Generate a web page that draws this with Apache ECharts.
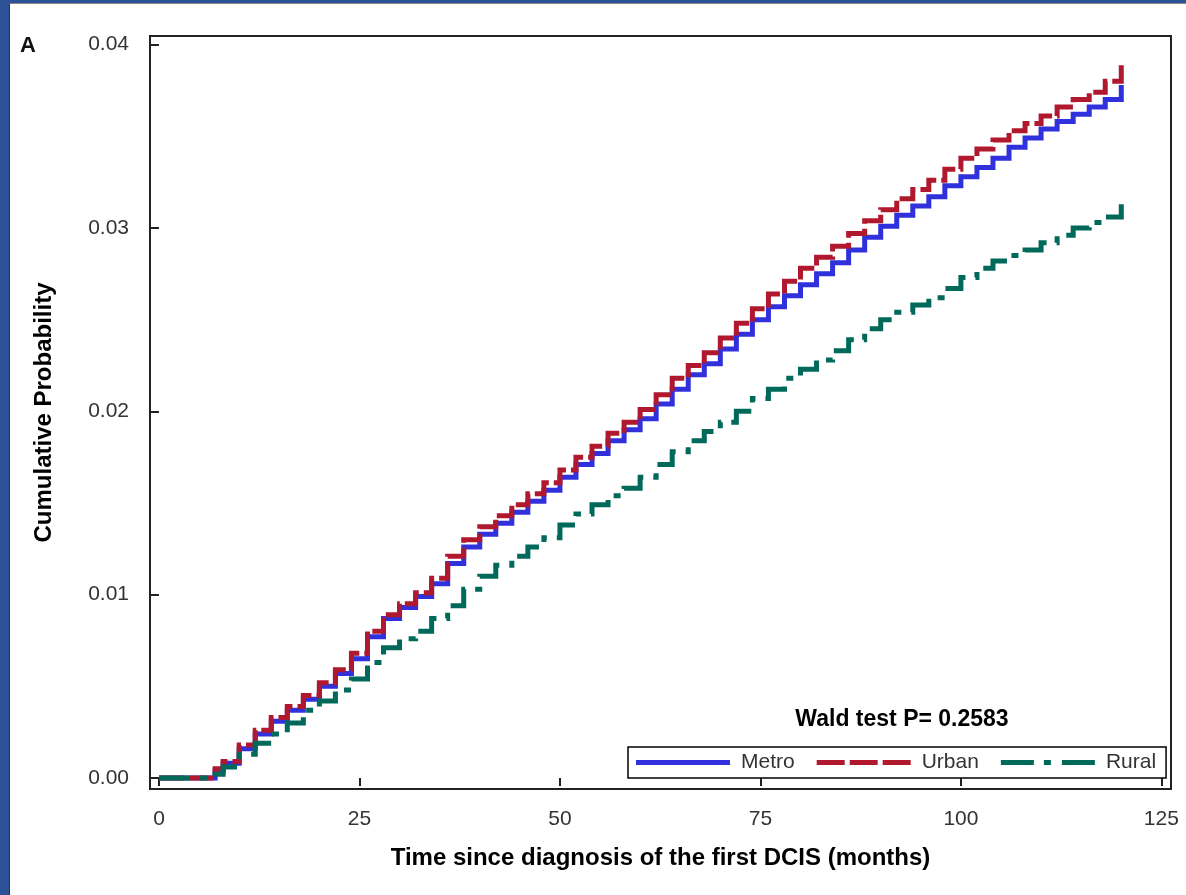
<!DOCTYPE html>
<html>
<head>
<meta charset="utf-8">
<script src="https://cdn.jsdelivr.net/npm/echarts@6/dist/echarts.min.js"></script>
<style>
  html, body { margin: 0; padding: 0; background: #fff; }
  #wrap { position: relative; width: 1186px; height: 895px; overflow: hidden; }
  #bandL { position: absolute; left: 0; top: 0; width: 9px; height: 895px; background: #2c5196; }
  #bandT { position: absolute; left: 0; top: 0; width: 1186px; height: 3px; background: #2c5196; }
  #edge { position: absolute; left: 9px; top: 3px; right: 0; bottom: 0; border-left: 1px solid #333; border-top: 1px solid #888; }
  #chart { position: absolute; left: 0; top: 0; width: 1186px; height: 895px; }
</style>
</head>
<body>
<div id="wrap">
  <div id="bandL"></div>
  <div id="bandT"></div>
  <div id="edge"></div>
  <div id="chart"></div>
</div>
<script>
// months since diagnosis
const months = [0, 2, 4, 6, 7, 8,
  10, 12, 14, 16, 18, 20, 22, 24, 26, 28,
  30, 32, 34, 36, 38, 40, 42, 44, 46, 48,
  50, 52, 54, 56, 58, 60, 62, 64, 66, 68,
  70, 72, 74, 76, 78, 80, 82, 84, 86, 88,
  90, 92, 94, 96, 98, 100, 102, 104, 106, 108,
  110, 112, 114, 116, 118, 120];

const metro = [0, 0, 0, 0, 0.0004, 0.0008,
  0.0016, 0.0024, 0.0031, 0.0037, 0.0043, 0.0050, 0.0057, 0.0065, 0.0077, 0.0087,
  0.0093, 0.0099, 0.0106, 0.0117, 0.0126, 0.0133, 0.0139, 0.0145, 0.0151, 0.0157,
  0.0164, 0.0171, 0.0177, 0.0184, 0.0190, 0.0196, 0.0204, 0.0212, 0.0220, 0.0226,
  0.0234, 0.0242, 0.0250, 0.0257, 0.0263, 0.0269, 0.0275, 0.0281, 0.0288, 0.0295,
  0.0301, 0.0307, 0.0312, 0.0317, 0.0323, 0.0328, 0.0333, 0.0338, 0.0344, 0.0349,
  0.0354, 0.0358, 0.0362, 0.0366, 0.0370, 0.0378];

const urban = [0, 0, 0, 0, 0.0005, 0.0009,
  0.0018, 0.0026, 0.0033, 0.0039, 0.0045, 0.0052, 0.0059, 0.0068, 0.0080, 0.0089,
  0.0095, 0.0101, 0.0109, 0.0121, 0.0130, 0.0137, 0.0143, 0.0149, 0.0155, 0.0161,
  0.0168, 0.0175, 0.0181, 0.0188, 0.0194, 0.0201, 0.0209, 0.0218, 0.0225, 0.0232,
  0.0240, 0.0248, 0.0256, 0.0264, 0.0271, 0.0278, 0.0284, 0.0290, 0.0297, 0.0304,
  0.0310, 0.0316, 0.0321, 0.0326, 0.0332, 0.0338, 0.0343, 0.0348, 0.0353, 0.0357,
  0.0361, 0.0366, 0.0370, 0.0374, 0.0380, 0.0389];

const rural = [0, 0, 0, 0, 0.0002, 0.0006,
  0.0013, 0.0019, 0.0024, 0.0030, 0.0037, 0.0042, 0.0048, 0.0054, 0.0063, 0.0071,
  0.0076, 0.0080, 0.0087, 0.0094, 0.0103, 0.0110, 0.0116, 0.0121, 0.0126, 0.0131,
  0.0138, 0.0144, 0.0149, 0.0154, 0.0158, 0.0164, 0.0171, 0.0178, 0.0184, 0.0189,
  0.0194, 0.0200, 0.0207, 0.0212, 0.0218, 0.0223, 0.0228, 0.0233, 0.0239, 0.0245,
  0.0250, 0.0254, 0.0258, 0.0262, 0.0267, 0.0273, 0.0278, 0.0282, 0.0285, 0.0288,
  0.0292, 0.0296, 0.0300, 0.0303, 0.0306, 0.0313];

const xTicks = [0, 25, 50, 75, 100, 125];
const yTicks = [0, 0.01, 0.02, 0.03, 0.04];

const FONT = '"Liberation Sans", Arial, sans-serif';
const INK = '#222';

// legend swatches drawn as 94x5 paths (solid / dashed / dash-dot)
const ICON_SOLID = 'path://M0,0H94V5H0Z';
const ICON_DASH = 'path://M0,0H28V5H0Z M33,0H61V5H33Z M66,0H94V5H66Z';
const ICON_DASHDOT = 'path://M0,0H33V5H0Z M43,0H50V5H43Z M61,0H94V5H61Z';

function pairs(ys) {
  return months.map((m, i) => [m, ys[i]]);
}

function stepSeries(name, ys, color, dash) {
  return {
    name,
    type: 'line',
    step: 'end',
    symbol: 'none',
    data: pairs(ys),
    lineStyle: { color, width: 5, type: dash, cap: 'butt', join: 'miter' },
    itemStyle: { color },
    emphasis: { disabled: true },
  };
}

const chart = echarts.init(document.getElementById('chart'));

chart.setOption({
  animation: false,
  grid: {
    left: 150, right: 15, top: 36, bottom: 106,
    show: true, borderColor: INK, borderWidth: 2, backgroundColor: 'transparent',
  },
  xAxis: {
    type: 'value',
    min: -1.12, max: 126.2,
    name: 'Time since diagnosis of the first DCIS (months)',
    nameLocation: 'middle',
    nameGap: 57,
    nameTextStyle: { fontFamily: FONT, fontWeight: 'bold', fontSize: 24, color: '#000' },
    axisLine: { show: false },
    axisTick: { show: true, length: 8, lineStyle: { color: INK, width: 2 }, customValues: xTicks },
    axisLabel: { fontFamily: FONT, fontSize: 21, color: '#333', margin: 20, customValues: xTicks },
    splitLine: { show: false },
  },
  yAxis: {
    type: 'value',
    min: -0.0006, max: 0.04047,
    name: 'Cumulative Probability',
    nameLocation: 'middle',
    nameGap: 94,
    nameTextStyle: { fontFamily: FONT, fontWeight: 'bold', fontSize: 24, color: '#000' },
    axisLine: { show: false },
    axisTick: { show: true, length: 8, lineStyle: { color: INK, width: 2 }, customValues: yTicks },
    axisLabel: {
      fontFamily: FONT, fontSize: 21, color: '#333', margin: 21, customValues: yTicks,
      formatter: (v) => v.toFixed(2),
    },
    splitLine: { show: false },
  },
  legend: {
    data: [
      { name: 'Metro', icon: ICON_SOLID },
      { name: 'Urban', icon: ICON_DASH },
      { name: 'Rural', icon: ICON_DASHDOT },
    ],
    left: 628, top: 747,
    orient: 'horizontal',
    borderColor: '#000', borderWidth: 1.5,
    padding: [5, 10, 5, 8],
    itemWidth: 94, itemHeight: 5, itemGap: 22,
    symbolKeepAspect: false,
    selectedMode: false,
    itemStyle: { borderWidth: 0 },
    textStyle: { fontFamily: FONT, fontSize: 21, color: '#333', padding: [0, 0, 0, 6] },
  },
  graphic: [
    {
      type: 'text', left: 20, top: 35,
      style: { text: 'A', font: 'bold 22px ' + FONT, fill: '#111' },
    },
    {
      type: 'text', x: 902, y: 720,
      style: {
        text: 'Wald test P= 0.2583', font: 'bold 23px ' + FONT, fill: '#000',
        textAlign: 'center', textVerticalAlign: 'middle',
      },
    },
  ],
  series: [
    stepSeries('Metro', metro, '#3030dc', 'solid'),
    stepSeries('Urban', urban, '#b0182e', [25, 5]),
    stepSeries('Rural', rural, '#00695a', [31, 10, 7, 10]),
  ],
});
</script>
</body>
</html>
